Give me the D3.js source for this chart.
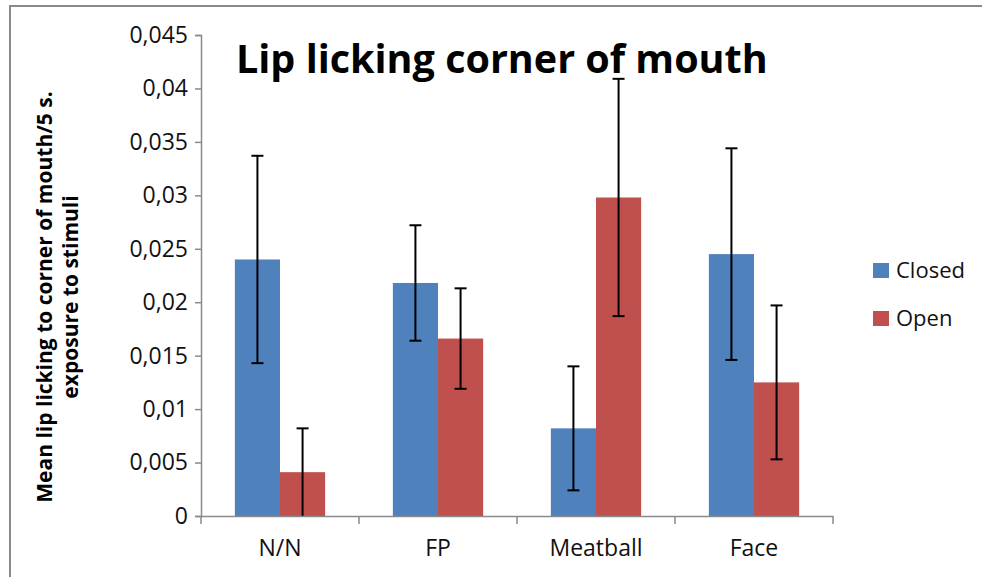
<!DOCTYPE html>
<html>
<head>
<meta charset="utf-8">
<script src="https://cdn.jsdelivr.net/npm/d3@7"></script>
<style>
  body { margin: 0; background: #fff; }
  svg text { font-family: "Open Sans", "Noto Sans", sans-serif; }
</style>
</head>
<body>
<div id="chart"></div>
<script>
// data
var categories = ["N/N", "FP", "Meatball", "Face"];
var seriesNames = ["Closed", "Open"];
var closedVals = [0.0240, 0.0218, 0.0082, 0.0245];
var openVals   = [0.0041, 0.0166, 0.0298, 0.0125];
var closedErr  = [0.0097, 0.0054, 0.0058, 0.0099];
var openErr    = [0.0041, 0.0047, 0.0111, 0.0072];
var yTicks = [0, 0.005, 0.01, 0.015, 0.02, 0.025, 0.03, 0.035, 0.04, 0.045];
var colors = ["#4F81BD", "#C0504D"];

var W = 982, H = 577;
var margin = {top: 35, right: 149, bottom: 61, left: 201};
var width = W - margin.left - margin.right,
    height = H - margin.top - margin.bottom;

var svg = d3.select("#chart").append("svg")
    .attr("width", W).attr("height", H);

// outer frame (runs off right and bottom)
svg.append("path")
    .attr("d", "M10," + H + " V6 H" + W)
    .attr("fill", "none").attr("stroke", "#8a8a8a").attr("stroke-width", 2);

var g = svg.append("g")
    .attr("transform", "translate(" + margin.left + "," + margin.top + ")");

var x0 = d3.scaleBand().domain(categories).range([0, width]).paddingInner(0).paddingOuter(0);
var x1 = d3.scaleBand().domain(seriesNames).range([0, x0.bandwidth()]).paddingInner(0).paddingOuter(0.75);
var y = d3.scaleLinear().domain([0, 0.045]).range([height, 0]);

var fmt = function(d) { return d === 0 ? "0" : String(+d.toFixed(3)).replace(".", ","); };

// y axis
var yAxis = g.append("g").call(d3.axisLeft(y).tickValues(yTicks).tickFormat(fmt).tickSize(6).tickPadding(7));
yAxis.select(".domain").attr("stroke", "#8a8a8a").attr("stroke-width", 1.5);
yAxis.selectAll(".tick line").attr("stroke", "#8a8a8a").attr("stroke-width", 1.5);
yAxis.selectAll("text").attr("font-size", 23).attr("fill", "#111");

// bars
var rows = categories.map(function(c, i) {
  return [
    {cat: c, s: "Closed", v: closedVals[i], e: closedErr[i], col: colors[0]},
    {cat: c, s: "Open", v: openVals[i], e: openErr[i], col: colors[1]}
  ];
});
var grp = g.selectAll(".grp").data(rows).enter().append("g")
    .attr("transform", function(d) { return "translate(" + x0(d[0].cat) + ",0)"; });

grp.selectAll("rect").data(function(d) { return d; }).enter().append("rect")
    .attr("x", function(d) { return x1(d.s); })
    .attr("width", x1.bandwidth())
    .attr("y", function(d) { return y(d.v); })
    .attr("height", function(d) { return height - y(d.v); })
    .attr("fill", function(d) { return d.col; });

// x axis
var xAxis = g.append("g").attr("transform", "translate(0," + height + ")")
    .call(d3.axisBottom(x0).tickSize(0).tickPadding(24));
xAxis.select(".domain").attr("stroke", "#8a8a8a").attr("stroke-width", 1.5);
xAxis.selectAll("text").attr("font-size", 23).attr("fill", "#111");
g.selectAll(".xtick").data(d3.range(categories.length + 1)).enter().append("line")
    .attr("x1", function(i) { return i * x0.step(); })
    .attr("x2", function(i) { return i * x0.step(); })
    .attr("y1", height).attr("y2", height + 8)
    .attr("stroke", "#8a8a8a").attr("stroke-width", 1.5);

// error bars
var eb = grp.selectAll(".err").data(function(d) { return d; }).enter().append("g");
eb.append("line")
    .attr("x1", function(d) { return x1(d.s) + x1.bandwidth() / 2; })
    .attr("x2", function(d) { return x1(d.s) + x1.bandwidth() / 2; })
    .attr("y1", function(d) { return y(d.v + d.e); })
    .attr("y2", function(d) { return y(Math.max(0, d.v - d.e)); })
    .attr("stroke", "#000").attr("stroke-width", 2);
eb.each(function(d) {
  var cx = x1(d.s) + x1.bandwidth() / 2;
  var ends = [d.v + d.e];
  if (d.v - d.e > 0.0002) ends.push(d.v - d.e);
  d3.select(this).selectAll(".cap").data(ends).enter().append("line")
    .attr("x1", cx - 6).attr("x2", cx + 6)
    .attr("y1", function(v) { return y(v); }).attr("y2", function(v) { return y(v); })
    .attr("stroke", "#000").attr("stroke-width", 2);
});

// title
svg.append("text")
    .attr("x", 236).attr("y", 73)
    .attr("font-size", 39.5).attr("font-weight", "bold").attr("fill", "#000")
    .text("Lip licking corner of mouth");

// y axis title
var yt = svg.append("text")
    .attr("transform", "translate(0,297) rotate(-90)")
    .attr("text-anchor", "middle").attr("font-size", 21).attr("font-weight", "bold").attr("fill", "#000");
yt.append("tspan").attr("x", 0).attr("y", 52).text("Mean lip licking to corner of mouth/5 s.");
yt.append("tspan").attr("x", 0).attr("y", 78).text("exposure to stimuli");

// legend
var leg = svg.selectAll(".leg").data(seriesNames).enter().append("g")
    .attr("transform", function(d, i) { return "translate(873," + (263 + i * 48) + ")"; });
leg.append("rect").attr("width", 16).attr("height", 15)
    .attr("fill", function(d, i) { return colors[i]; });
leg.append("text").attr("x", 23).attr("y", 15)
    .attr("font-size", 22).attr("fill", "#111")
    .text(function(d) { return d; });
</script>
</body>
</html>
